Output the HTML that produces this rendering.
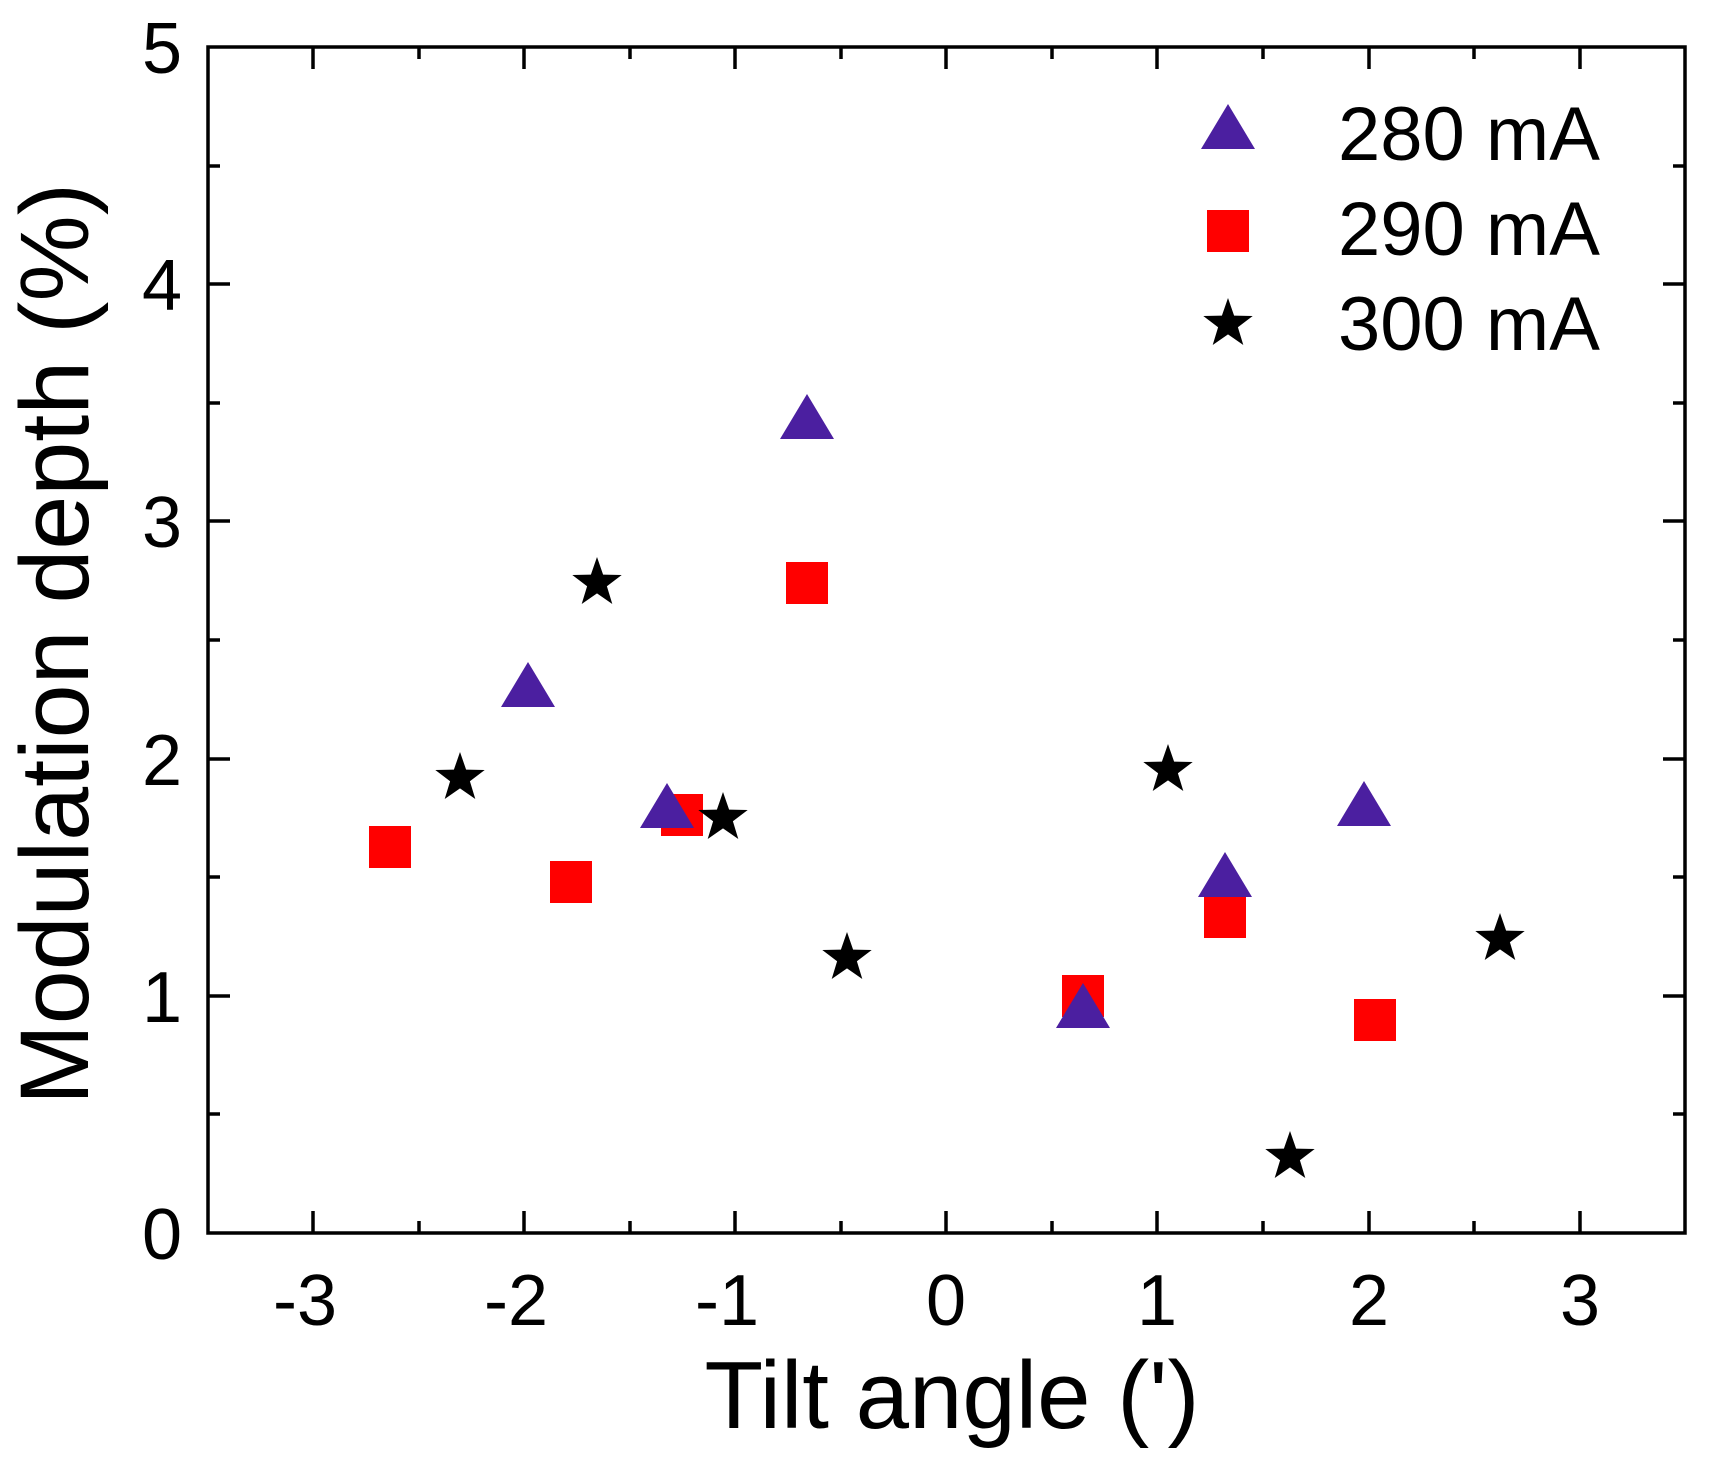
<!DOCTYPE html>
<html><head><meta charset="utf-8"><style>
html,body{margin:0;padding:0;background:#fff;}
svg{display:block;}
text{font-family:"Liberation Sans",Arial,sans-serif;fill:#000;}
</style></head><body>
<svg width="1711" height="1464" viewBox="0 0 1711 1464" xmlns="http://www.w3.org/2000/svg">
<defs>
<polygon id="tri" points="0,-25 27,20 -27,20" fill="#4b1fa0"/>
<rect id="sq" x="-21" y="-21" width="42" height="42" fill="#ff0000"/>
<polygon id="star" points="0,-26 6.1,-8.4 24.7,-8.0 9.9,3.2 15.3,21.0 0,10.4 -15.3,21.0 -9.9,3.2 -24.7,-8.0 -6.1,-8.4" fill="#000"/>
</defs>
<g stroke="#000" stroke-width="3.5" fill="none">
<rect x="208" y="47" width="1477" height="1186"/>
<path d="M313 1233v-22M313 47v22M524 1233v-22M524 47v22M735 1233v-22M735 47v22M946 1233v-22M946 47v22M1157 1233v-22M1157 47v22M1369 1233v-22M1369 47v22M1580 1233v-22M1580 47v22"/>
<path d="M419 1233v-12M419 47v12M630 1233v-12M630 47v12M841 1233v-12M841 47v12M1052 1233v-12M1052 47v12M1263 1233v-12M1263 47v12M1474 1233v-12M1474 47v12"/>
<path d="M208 996h22M1685 996h-22M208 759h22M1685 759h-22M208 521h22M1685 521h-22M208 284h22M1685 284h-22"/>
<path d="M208 1114h12M1685 1114h-12M208 877h12M1685 877h-12M208 640h12M1685 640h-12M208 403h12M1685 403h-12M208 166h12M1685 166h-12"/>
</g>
<g font-size="72" text-anchor="end">
<text x="182" y="1259">0</text>
<text x="182" y="1022">1</text>
<text x="182" y="785">2</text>
<text x="182" y="547">3</text>
<text x="182" y="310">4</text>
<text x="182" y="73">5</text>
</g>
<g font-size="72" text-anchor="middle">
<text x="305" y="1325">-3</text>
<text x="516" y="1325">-2</text>
<text x="727" y="1325">-1</text>
<text x="946" y="1325">0</text>
<text x="1157" y="1325">1</text>
<text x="1369" y="1325">2</text>
<text x="1580" y="1325">3</text>
</g>
<text x="952" y="1428" font-size="96" text-anchor="middle">Tilt angle (')</text>
<text transform="translate(88,644) rotate(-90)" font-size="97" text-anchor="middle">Modulation depth (%)</text>
<use href="#sq" x="390" y="847"/><use href="#sq" x="571" y="882"/><use href="#sq" x="682" y="815"/>
<use href="#sq" x="807" y="583"/><use href="#sq" x="1083" y="996"/><use href="#sq" x="1225" y="917"/>
<use href="#sq" x="1375" y="1020"/>
<use href="#tri" x="807" y="419"/><use href="#tri" x="528" y="687"/><use href="#tri" x="667" y="808"/>
<use href="#tri" x="1083" y="1008"/><use href="#tri" x="1225" y="877"/><use href="#tri" x="1364" y="806"/>
<use href="#star" x="460" y="778"/><use href="#star" x="597" y="583"/><use href="#star" x="723" y="818"/>
<use href="#star" x="847" y="958"/><use href="#star" x="1168" y="770"/><use href="#star" x="1290" y="1157"/>
<use href="#star" x="1500" y="939"/>
<use href="#tri" x="1228" y="129"/>
<use href="#sq" x="1228" y="231"/>
<use href="#star" x="1228" y="324"/>
<g font-size="76">
<text x="1338" y="160">280 mA</text>
<text x="1338" y="255">290 mA</text>
<text x="1338" y="350">300 mA</text>
</g>
</svg>
</body></html>
